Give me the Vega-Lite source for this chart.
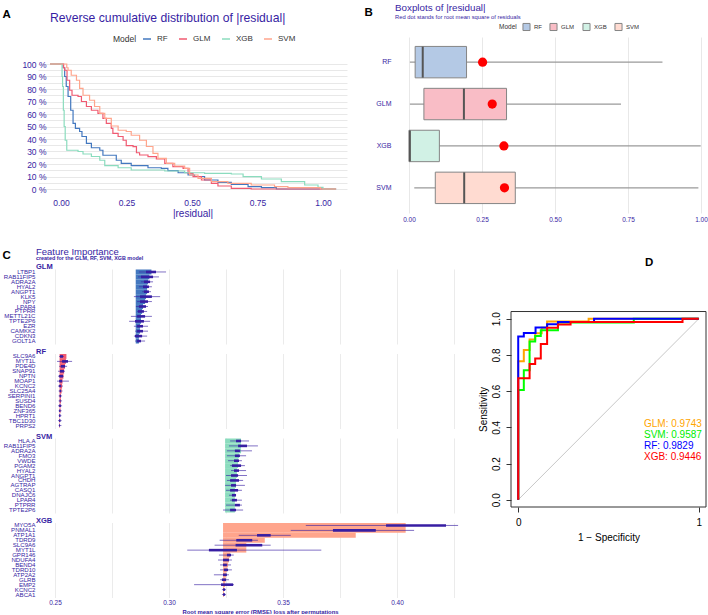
{
 "$schema": "https://vega.github.io/schema/vega-lite/v6.json",
 "background": "white",
 "padding": {"left": 2, "top": 3, "right": 0, "bottom": 0},
 "config": {"font": "Liberation Sans", "view": {"stroke": null}},
 "datasets": {
  "resid": [
   {"model":"RF","x":-0.042,"y":1},{"model":"RF","x":0.008,"y":0.97},{"model":"RF","x":0.014,"y":0.90},{"model":"RF","x":0.020,"y":0.82},{"model":"RF","x":0.027,"y":0.74},{"model":"RF","x":0.037,"y":0.63},{"model":"RF","x":0.046,"y":0.525},{"model":"RF","x":0.055,"y":0.485},{"model":"RF","x":0.071,"y":0.46},{"model":"RF","x":0.080,"y":0.42},{"model":"RF","x":0.097,"y":0.365},{"model":"RF","x":0.116,"y":0.33},{"model":"RF","x":0.148,"y":0.31},{"model":"RF","x":0.160,"y":0.27},{"model":"RF","x":0.211,"y":0.23},{"model":"RF","x":0.230,"y":0.205},{"model":"RF","x":0.268,"y":0.187},{"model":"RF","x":0.332,"y":0.17},{"model":"RF","x":0.383,"y":0.165},{"model":"RF","x":0.408,"y":0.147},{"model":"RF","x":0.447,"y":0.13},{"model":"RF","x":0.485,"y":0.112},{"model":"RF","x":0.510,"y":0.10},{"model":"RF","x":0.548,"y":0.072},{"model":"RF","x":0.599,"y":0.053},{"model":"RF","x":0.650,"y":0.037},{"model":"RF","x":0.714,"y":0.019},{"model":"RF","x":0.765,"y":0.011},{"model":"RF","x":0.822,"y":0},{"model":"RF","x":1.05,"y":0},
   {"model":"GLM","x":-0.042,"y":1},{"model":"GLM","x":0.010,"y":0.97},{"model":"GLM","x":0.014,"y":0.95},{"model":"GLM","x":0.023,"y":0.87},{"model":"GLM","x":0.033,"y":0.79},{"model":"GLM","x":0.042,"y":0.75},{"model":"GLM","x":0.065,"y":0.74},{"model":"GLM","x":0.078,"y":0.70},{"model":"GLM","x":0.097,"y":0.66},{"model":"GLM","x":0.116,"y":0.63},{"model":"GLM","x":0.141,"y":0.605},{"model":"GLM","x":0.160,"y":0.565},{"model":"GLM","x":0.173,"y":0.525},{"model":"GLM","x":0.192,"y":0.485},{"model":"GLM","x":0.198,"y":0.445},{"model":"GLM","x":0.218,"y":0.42},{"model":"GLM","x":0.237,"y":0.39},{"model":"GLM","x":0.249,"y":0.347},{"model":"GLM","x":0.275,"y":0.339},{"model":"GLM","x":0.288,"y":0.29},{"model":"GLM","x":0.300,"y":0.272},{"model":"GLM","x":0.332,"y":0.259},{"model":"GLM","x":0.364,"y":0.24},{"model":"GLM","x":0.396,"y":0.205},{"model":"GLM","x":0.427,"y":0.179},{"model":"GLM","x":0.466,"y":0.165},{"model":"GLM","x":0.485,"y":0.125},{"model":"GLM","x":0.504,"y":0.099},{"model":"GLM","x":0.536,"y":0.072},{"model":"GLM","x":0.574,"y":0.045},{"model":"GLM","x":0.599,"y":0.024},{"model":"GLM","x":0.650,"y":0.005},{"model":"GLM","x":0.726,"y":0},{"model":"GLM","x":1.05,"y":0},
   {"model":"XGB","x":-0.042,"y":1},{"model":"XGB","x":0.004,"y":0.90},{"model":"XGB","x":0.006,"y":0.82},{"model":"XGB","x":0.009,"y":0.63},{"model":"XGB","x":0.012,"y":0.50},{"model":"XGB","x":0.016,"y":0.39},{"model":"XGB","x":0.022,"y":0.31},{"model":"XGB","x":0.065,"y":0.30},{"model":"XGB","x":0.084,"y":0.28},{"model":"XGB","x":0.116,"y":0.26},{"model":"XGB","x":0.148,"y":0.23},{"model":"XGB","x":0.167,"y":0.187},{"model":"XGB","x":0.218,"y":0.17},{"model":"XGB","x":0.268,"y":0.152},{"model":"XGB","x":0.396,"y":0.144},{"model":"XGB","x":0.472,"y":0.13},{"model":"XGB","x":0.548,"y":0.125},{"model":"XGB","x":0.650,"y":0.12},{"model":"XGB","x":0.695,"y":0.099},{"model":"XGB","x":0.765,"y":0.08},{"model":"XGB","x":0.841,"y":0.059},{"model":"XGB","x":0.930,"y":0.032},{"model":"XGB","x":0.981,"y":0.013},{"model":"XGB","x":1.0,"y":0},{"model":"XGB","x":1.05,"y":0},
   {"model":"SVM","x":-0.042,"y":1},{"model":"SVM","x":0.022,"y":0.97},{"model":"SVM","x":0.027,"y":0.95},{"model":"SVM","x":0.039,"y":0.91},{"model":"SVM","x":0.059,"y":0.87},{"model":"SVM","x":0.071,"y":0.805},{"model":"SVM","x":0.084,"y":0.75},{"model":"SVM","x":0.109,"y":0.71},{"model":"SVM","x":0.128,"y":0.66},{"model":"SVM","x":0.148,"y":0.605},{"model":"SVM","x":0.167,"y":0.565},{"model":"SVM","x":0.192,"y":0.504},{"model":"SVM","x":0.218,"y":0.47},{"model":"SVM","x":0.249,"y":0.46},{"model":"SVM","x":0.268,"y":0.43},{"model":"SVM","x":0.300,"y":0.39},{"model":"SVM","x":0.326,"y":0.34},{"model":"SVM","x":0.351,"y":0.285},{"model":"SVM","x":0.370,"y":0.245},{"model":"SVM","x":0.402,"y":0.205},{"model":"SVM","x":0.434,"y":0.184},{"model":"SVM","x":0.472,"y":0.165},{"model":"SVM","x":0.491,"y":0.112},{"model":"SVM","x":0.523,"y":0.085},{"model":"SVM","x":0.574,"y":0.059},{"model":"SVM","x":0.637,"y":0.045},{"model":"SVM","x":0.726,"y":0.032},{"model":"SVM","x":0.815,"y":0.019},{"model":"SVM","x":0.866,"y":0.011},{"model":"SVM","x":0.99,"y":0},{"model":"SVM","x":1.05,"y":0}
  ],
  "box": [
   {"model":"RF","wlo":0.003,"q1":0.021,"med":0.047,"q3":0.197,"whi":0.868,"rmse":0.252},
   {"model":"GLM","wlo":0.003,"q1":0.051,"med":0.188,"q3":0.334,"whi":0.726,"rmse":0.285},
   {"model":"XGB","wlo":0.0,"q1":0.0,"med":0.003,"q3":0.104,"whi":0.999,"rmse":0.325},
   {"model":"SVM","wlo":0.018,"q1":0.090,"med":0.189,"q3":0.364,"whi":0.991,"rmse":0.327}
  ],
  "fi": [
   {"m":"GLM","g":"LTBP1","r":1,"b":0.2854,"v":0.2923,"lo":0.2868,"q1":0.2899,"q3":0.2943,"hi":0.2987},
   {"m":"GLM","g":"RAB11FIP5","r":2,"b":0.2854,"v":0.2914,"lo":0.2864,"q1":0.2877,"q3":0.2930,"hi":0.2956},
   {"m":"GLM","g":"ADRA2A","r":3,"b":0.2854,"v":0.2908,"lo":0.2877,"q1":0.2890,"q3":0.2917,"hi":0.2930},
   {"m":"GLM","g":"HYAL2","r":4,"b":0.2854,"v":0.2904,"lo":0.2868,"q1":0.2886,"q3":0.2912,"hi":0.2925},
   {"m":"GLM","g":"ANGPT1","r":5,"b":0.2854,"v":0.2904,"lo":0.2882,"q1":0.2890,"q3":0.2912,"hi":0.2921},
   {"m":"GLM","g":"KLK5","r":6,"b":0.2854,"v":0.2899,"lo":0.2846,"q1":0.2873,"q3":0.2925,"hi":0.2961},
   {"m":"GLM","g":"NPY","r":7,"b":0.2854,"v":0.2895,"lo":0.2860,"q1":0.2873,"q3":0.2908,"hi":0.2925},
   {"m":"GLM","g":"LPAR4","r":8,"b":0.2854,"v":0.2886,"lo":0.2855,"q1":0.2868,"q3":0.2899,"hi":0.2908},
   {"m":"GLM","g":"PTPRR","r":9,"b":0.2854,"v":0.2882,"lo":0.2860,"q1":0.2864,"q3":0.2890,"hi":0.2904},
   {"m":"GLM","g":"METTL21C","r":10,"b":0.2854,"v":0.2877,"lo":0.2833,"q1":0.2860,"q3":0.2895,"hi":0.2925},
   {"m":"GLM","g":"TPTE2P6","r":11,"b":0.2854,"v":0.2877,"lo":0.2825,"q1":0.2851,"q3":0.2890,"hi":0.2917},
   {"m":"GLM","g":"EZR","r":12,"b":0.2854,"v":0.2873,"lo":0.2846,"q1":0.2860,"q3":0.2886,"hi":0.2908},
   {"m":"GLM","g":"CAMKK2","r":13,"b":0.2854,"v":0.2873,"lo":0.2851,"q1":0.2860,"q3":0.2886,"hi":0.2908},
   {"m":"GLM","g":"CDKN3","r":14,"b":0.2854,"v":0.2868,"lo":0.2846,"q1":0.2851,"q3":0.2882,"hi":0.2904},
   {"m":"GLM","g":"GOLT1A","r":15,"b":0.2854,"v":0.2868,"lo":0.2851,"q1":0.2860,"q3":0.2877,"hi":0.2895},
   {"m":"RF","g":"SLC9A6","r":1,"b":0.2520,"v":0.2550,"lo":0.2518,"q1":0.2522,"q3":0.2535,"hi":0.2539},
   {"m":"RF","g":"MYT1L","r":2,"b":0.2520,"v":0.2548,"lo":0.2509,"q1":0.2531,"q3":0.2557,"hi":0.2575},
   {"m":"RF","g":"PDE4D","r":3,"b":0.2520,"v":0.2544,"lo":0.2518,"q1":0.2526,"q3":0.2544,"hi":0.2553},
   {"m":"RF","g":"SNAP91","r":4,"b":0.2520,"v":0.2540,"lo":0.2513,"q1":0.2522,"q3":0.2539,"hi":0.2544},
   {"m":"RF","g":"NPTN","r":5,"b":0.2520,"v":0.2537,"lo":0.2513,"q1":0.2518,"q3":0.2535,"hi":0.2539},
   {"m":"RF","g":"MOAP1","r":6,"b":0.2520,"v":0.2533,"lo":0.2509,"q1":0.2518,"q3":0.2531,"hi":0.2561},
   {"m":"RF","g":"KCNC2","r":7,"b":0.2520,"v":0.2531,"lo":0.2513,"q1":0.2518,"q3":0.2526,"hi":0.2535},
   {"m":"RF","g":"SLC25A4","r":8,"b":0.2520,"v":0.2529,"lo":0.2516,"q1":0.2520,"q3":0.2526,"hi":0.2533},
   {"m":"RF","g":"SERPINI1","r":9,"b":0.2520,"v":0.2526,"lo":0.2516,"q1":0.2520,"q3":0.2526,"hi":0.2531},
   {"m":"RF","g":"SUSD4","r":10,"b":0.2520,"v":0.2526,"lo":0.2516,"q1":0.2520,"q3":0.2524,"hi":0.2531},
   {"m":"RF","g":"BEND6","r":11,"b":0.2520,"v":0.2524,"lo":0.2513,"q1":0.2518,"q3":0.2526,"hi":0.2531},
   {"m":"RF","g":"ZNF365","r":12,"b":0.2520,"v":0.2524,"lo":0.2516,"q1":0.2518,"q3":0.2524,"hi":0.2529},
   {"m":"RF","g":"HPRT1","r":13,"b":0.2520,"v":0.2522,"lo":0.2516,"q1":0.2518,"q3":0.2524,"hi":0.2528},
   {"m":"RF","g":"TBC1D30","r":14,"b":0.2520,"v":0.2522,"lo":0.2513,"q1":0.2518,"q3":0.2524,"hi":0.2529},
   {"m":"RF","g":"PRPS2","r":15,"b":0.2520,"v":0.2522,"lo":0.2516,"q1":0.2518,"q3":0.2522,"hi":0.2528},
   {"m":"SVM","g":"HLA.A","r":1,"b":0.3246,"v":0.3316,"lo":0.3268,"q1":0.3294,"q3":0.3316,"hi":0.3351},
   {"m":"SVM","g":"RAB11FIP5","r":2,"b":0.3246,"v":0.3316,"lo":0.3263,"q1":0.3303,"q3":0.3342,"hi":0.3390},
   {"m":"SVM","g":"ADRA2A","r":3,"b":0.3246,"v":0.3316,"lo":0.3254,"q1":0.3289,"q3":0.3311,"hi":0.3364},
   {"m":"SVM","g":"FMO3","r":4,"b":0.3246,"v":0.3307,"lo":0.3254,"q1":0.3289,"q3":0.3311,"hi":0.3338},
   {"m":"SVM","g":"VWDE","r":5,"b":0.3246,"v":0.3303,"lo":0.3259,"q1":0.3285,"q3":0.3307,"hi":0.3320},
   {"m":"SVM","g":"PGAM2","r":6,"b":0.3246,"v":0.3303,"lo":0.3268,"q1":0.3276,"q3":0.3316,"hi":0.3333},
   {"m":"SVM","g":"HYAL2","r":7,"b":0.3246,"v":0.3298,"lo":0.3272,"q1":0.3285,"q3":0.3307,"hi":0.3338},
   {"m":"SVM","g":"ANGPT1","r":8,"b":0.3246,"v":0.3298,"lo":0.3250,"q1":0.3272,"q3":0.3303,"hi":0.3342},
   {"m":"SVM","g":"CHDH","r":9,"b":0.3246,"v":0.3294,"lo":0.3254,"q1":0.3268,"q3":0.3307,"hi":0.3325},
   {"m":"SVM","g":"AGTRAP","r":10,"b":0.3246,"v":0.3294,"lo":0.3246,"q1":0.3272,"q3":0.3294,"hi":0.3333},
   {"m":"SVM","g":"CASQ1","r":11,"b":0.3246,"v":0.3289,"lo":0.3250,"q1":0.3268,"q3":0.3303,"hi":0.3320},
   {"m":"SVM","g":"DNAJC6","r":12,"b":0.3246,"v":0.3289,"lo":0.3263,"q1":0.3276,"q3":0.3294,"hi":0.3294},
   {"m":"SVM","g":"LPAR4","r":13,"b":0.3246,"v":0.3289,"lo":0.3268,"q1":0.3276,"q3":0.3298,"hi":0.3320},
   {"m":"SVM","g":"PTPRR","r":14,"b":0.3246,"v":0.3289,"lo":0.3250,"q1":0.3289,"q3":0.3311,"hi":0.3320},
   {"m":"SVM","g":"TPTE2P6","r":15,"b":0.3246,"v":0.3289,"lo":0.3237,"q1":0.3268,"q3":0.3294,"hi":0.3325},
   {"m":"XGB","g":"MYO5A","r":1,"b":0.3237,"v":0.4038,"lo":0.3600,"q1":0.3952,"q3":0.4215,"hi":0.4268},
   {"m":"XGB","g":"PNMAL1","r":2,"b":0.3237,"v":0.4038,"lo":0.3534,"q1":0.3719,"q3":0.3907,"hi":0.4075},
   {"m":"XGB","g":"ATP1A1","r":3,"b":0.3237,"v":0.3819,"lo":0.3306,"q1":0.3386,"q3":0.3446,"hi":0.3534},
   {"m":"XGB","g":"TDRD9","r":4,"b":0.3237,"v":0.3420,"lo":0.3222,"q1":0.3295,"q3":0.3365,"hi":0.3390},
   {"m":"XGB","g":"SLC9A6","r":5,"b":0.3237,"v":0.3339,"lo":0.3200,"q1":0.3292,"q3":0.3409,"hi":0.3446},
   {"m":"XGB","g":"MYT1L","r":6,"b":0.3237,"v":0.3339,"lo":0.3080,"q1":0.3175,"q3":0.3298,"hi":0.3668},
   {"m":"XGB","g":"GPR146","r":7,"b":0.3237,"v":0.3268,"lo":0.3219,"q1":0.3254,"q3":0.3272,"hi":0.3284},
   {"m":"XGB","g":"NDUFA4","r":8,"b":0.3237,"v":0.3263,"lo":0.3215,"q1":0.3237,"q3":0.3263,"hi":0.3276},
   {"m":"XGB","g":"BEND4","r":9,"b":0.3237,"v":0.3259,"lo":0.3224,"q1":0.3237,"q3":0.3254,"hi":0.3272},
   {"m":"XGB","g":"TDRD10","r":10,"b":0.3237,"v":0.3254,"lo":0.3224,"q1":0.3241,"q3":0.3259,"hi":0.3276},
   {"m":"XGB","g":"ATP2A2","r":11,"b":0.3237,"v":0.3250,"lo":0.3197,"q1":0.3237,"q3":0.3254,"hi":0.3263},
   {"m":"XGB","g":"GLRB","r":12,"b":0.3237,"v":0.3248,"lo":0.3224,"q1":0.3232,"q3":0.3250,"hi":0.3263},
   {"m":"XGB","g":"EMP2","r":13,"b":0.3237,"v":0.3246,"lo":0.3110,"q1":0.3228,"q3":0.3281,"hi":0.3285},
   {"m":"XGB","g":"KCNC2","r":14,"b":0.3237,"v":0.3241,"lo":0.3232,"q1":0.3237,"q3":0.3246,"hi":0.3250},
   {"m":"XGB","g":"ABCA1","r":15,"b":0.3237,"v":0.3241,"lo":0.3232,"q1":0.3237,"q3":0.3246,"hi":0.3250}
  ],
  "roc": [
   {"curve":"GLM: 0.9743","fpr":0,"tpr":0},{"curve":"GLM: 0.9743","fpr":0,"tpr":0.765},{"curve":"GLM: 0.9743","fpr":0.031,"tpr":0.765},{"curve":"GLM: 0.9743","fpr":0.031,"tpr":0.827},{"curve":"GLM: 0.9743","fpr":0.063,"tpr":0.827},{"curve":"GLM: 0.9743","fpr":0.063,"tpr":0.886},{"curve":"GLM: 0.9743","fpr":0.094,"tpr":0.886},{"curve":"GLM: 0.9743","fpr":0.094,"tpr":0.92},{"curve":"GLM: 0.9743","fpr":0.13,"tpr":0.92},{"curve":"GLM: 0.9743","fpr":0.13,"tpr":0.95},{"curve":"GLM: 0.9743","fpr":0.16,"tpr":0.95},{"curve":"GLM: 0.9743","fpr":0.16,"tpr":0.985},{"curve":"GLM: 0.9743","fpr":0.39,"tpr":0.985},{"curve":"GLM: 0.9743","fpr":0.39,"tpr":1},{"curve":"GLM: 0.9743","fpr":1,"tpr":1},
   {"curve":"SVM: 0.9587","fpr":0,"tpr":0},{"curve":"SVM: 0.9587","fpr":0,"tpr":0.607},{"curve":"SVM: 0.9587","fpr":0.031,"tpr":0.607},{"curve":"SVM: 0.9587","fpr":0.031,"tpr":0.715},{"curve":"SVM: 0.9587","fpr":0.063,"tpr":0.715},{"curve":"SVM: 0.9587","fpr":0.063,"tpr":0.875},{"curve":"SVM: 0.9587","fpr":0.094,"tpr":0.875},{"curve":"SVM: 0.9587","fpr":0.094,"tpr":0.905},{"curve":"SVM: 0.9587","fpr":0.125,"tpr":0.905},{"curve":"SVM: 0.9587","fpr":0.125,"tpr":0.937},{"curve":"SVM: 0.9587","fpr":0.22,"tpr":0.937},{"curve":"SVM: 0.9587","fpr":0.22,"tpr":0.98},{"curve":"SVM: 0.9587","fpr":0.64,"tpr":0.98},{"curve":"SVM: 0.9587","fpr":0.64,"tpr":1},{"curve":"SVM: 0.9587","fpr":1,"tpr":1},
   {"curve":"RF: 0.9829","fpr":0,"tpr":0},{"curve":"RF: 0.9829","fpr":0,"tpr":0.902},{"curve":"RF: 0.9829","fpr":0.031,"tpr":0.902},{"curve":"RF: 0.9829","fpr":0.031,"tpr":0.921},{"curve":"RF: 0.9829","fpr":0.096,"tpr":0.921},{"curve":"RF: 0.9829","fpr":0.096,"tpr":0.952},{"curve":"RF: 0.9829","fpr":0.16,"tpr":0.952},{"curve":"RF: 0.9829","fpr":0.16,"tpr":0.97},{"curve":"RF: 0.9829","fpr":0.22,"tpr":0.97},{"curve":"RF: 0.9829","fpr":0.22,"tpr":0.982},{"curve":"RF: 0.9829","fpr":0.42,"tpr":0.982},{"curve":"RF: 0.9829","fpr":0.42,"tpr":1},{"curve":"RF: 0.9829","fpr":1,"tpr":1},
   {"curve":"XGB: 0.9446","fpr":0,"tpr":0},{"curve":"XGB: 0.9446","fpr":0,"tpr":0.672},{"curve":"XGB: 0.9446","fpr":0.063,"tpr":0.672},{"curve":"XGB: 0.9446","fpr":0.063,"tpr":0.75},{"curve":"XGB: 0.9446","fpr":0.094,"tpr":0.75},{"curve":"XGB: 0.9446","fpr":0.094,"tpr":0.78},{"curve":"XGB: 0.9446","fpr":0.125,"tpr":0.78},{"curve":"XGB: 0.9446","fpr":0.125,"tpr":0.86},{"curve":"XGB: 0.9446","fpr":0.16,"tpr":0.86},{"curve":"XGB: 0.9446","fpr":0.16,"tpr":0.95},{"curve":"XGB: 0.9446","fpr":0.22,"tpr":0.95},{"curve":"XGB: 0.9446","fpr":0.22,"tpr":0.968},{"curve":"XGB: 0.9446","fpr":0.29,"tpr":0.968},{"curve":"XGB: 0.9446","fpr":0.29,"tpr":0.982},{"curve":"XGB: 0.9446","fpr":0.91,"tpr":0.982},{"curve":"XGB: 0.9446","fpr":0.91,"tpr":1},{"curve":"XGB: 0.9446","fpr":1,"tpr":1}
  ]
 },
 "spacing": 23,
 "resolve": {"scale": {"color": "independent", "x": "independent", "y": "independent"}, "legend": {"color": "independent"}, "axis": {"x": "independent", "y": "independent"}},
 "vconcat": [
  {
   "spacing": 17,
   "resolve": {"scale": {"color": "independent", "x": "independent", "y": "independent"}, "legend": {"color": "independent"}, "axis": {"x": "independent", "y": "independent"}},
   "hconcat": [
    {
     "width": 309, "height": 157,
     "title": {"text": "Reverse cumulative distribution of |residual|", "anchor": "start", "frame": "group", "dx": 12, "offset": -16, "fontSize": 12.2, "fontWeight": "normal", "color": "#371ea3"},
     "data": {"name": "resid"},
     "mark": {"type": "line", "interpolate": "step-after", "strokeWidth": 1.2},
     "encoding": {
      "x": {"field": "x", "type": "quantitative", "scale": {"domain": [-0.0878, 1.0916], "nice": false, "zero": false},
       "axis": {"values": [0, 0.25, 0.5, 0.75, 1], "format": ".2f", "title": "|residual|", "grid": false, "domain": false, "ticks": false, "labelColor": "#371ea3", "labelFontSize": 8.5, "labelPadding": 4, "titleColor": "#371ea3", "titleFontSize": 10, "titleFontWeight": "normal", "titlePadding": 2}},
      "y": {"field": "y", "type": "quantitative", "scale": {"domain": [-0.04, 1.216], "nice": false, "zero": false},
       "axis": {"values": [0,0.05,0.1,0.15,0.2,0.25,0.3,0.35,0.4,0.45,0.5,0.55,0.6,0.65,0.7,0.75,0.8,0.85,0.9,0.95,1],
        "labelExpr": "round(datum.value*100) % 10 == 0 ? round(datum.value*100) + ' %' : ''",
        "domain": false, "ticks": false, "offset": -10, "labelPadding": 2, "labelColor": "#371ea3", "labelFontSize": 8.5, "gridColor": "#e8e8e8",
        "title": "A", "titleAngle": 0, "titleAlign": "left", "titleBaseline": "middle", "titleX": -46, "titleY": -23, "titleFontSize": 11.5, "titleFontWeight": "bold", "titleColor": "#000000"}},
      "color": {"field": "model", "type": "nominal", "scale": {"domain": ["RF","GLM","XGB","SVM"], "range": ["#4378bf","#f05a71","#8bdcbe","#ffa58c"]},
       "legend": {"orient": "none", "legendX": 75, "legendY": -3, "direction": "horizontal", "title": "Model", "titleOrient": "left", "titleFontSize": 8.5, "titleFontWeight": "normal", "titleColor": "#333333", "labelFontSize": 8, "labelColor": "#333333", "symbolType": "stroke", "symbolSize": 64, "symbolStrokeWidth": 1.5, "columnPadding": 8, "labelOffset": 5}}
     }
    },
    {
     "width": 312, "height": 176,
     "title": {"text": "Boxplots of |residual|", "subtitle": "Red dot stands for root mean square of residuals", "anchor": "start", "frame": "group", "dx": 1, "offset": -14, "fontSize": 9.8, "fontWeight": "normal", "color": "#371ea3", "subtitleFontSize": 5.8, "subtitleColor": "#371ea3", "subtitlePadding": 1},
     "data": {"name": "box"},
     "encoding": {
      "y": {"field": "model", "type": "nominal", "scale": {"domain": ["RF","GLM","XGB","SVM"], "paddingInner": 0.25, "paddingOuter": 0.225},
       "axis": {"domain": false, "ticks": false, "labelColor": "#371ea3", "labelFontSize": 7, "labelPadding": 3,
        "title": "B", "titleAngle": 0, "titleAlign": "left", "titleBaseline": "middle", "titleX": -30, "titleY": -25, "titleFontSize": 11.5, "titleFontWeight": "bold", "titleColor": "#000000"}}
     },
     "layer": [
      {"mark": {"type": "rule", "color": "#9a9a9a", "strokeWidth": 1.3},
       "encoding": {
        "x": {"field": "wlo", "type": "quantitative", "scale": {"domain": [-0.0514, 1.0171], "nice": false, "zero": false},
         "axis": {"values": [0,0.125,0.25,0.375,0.5,0.625,0.75,0.875,1], "labelExpr": "round(datum.value*1000) % 250 == 0 ? format(datum.value, '.2f') : ''", "title": null, "domain": false, "ticks": false, "labelColor": "#371ea3", "labelFontSize": 6.5, "labelPadding": 3, "gridColor": "#e8e8e8"}},
        "x2": {"field": "whi"}}},
      {"mark": {"type": "bar", "stroke": "#858585", "strokeWidth": 1},
       "encoding": {
        "x": {"field": "q1", "type": "quantitative"}, "x2": {"field": "q3"},
        "color": {"field": "model", "type": "nominal", "scale": {"domain": ["RF","GLM","XGB","SVM"], "range": ["#b4c9e5","#f9bdc6","#d1f1e5","#ffdbd1"]},
         "legend": {"orient": "none", "legendX": 105, "legendY": -15, "direction": "horizontal", "title": "Model", "titleOrient": "left", "titleFontSize": 6.5, "titleFontWeight": "normal", "titleColor": "#333333", "labelFontSize": 6, "labelColor": "#333333", "symbolType": "square", "symbolSize": 50, "symbolStrokeColor": "#858585", "symbolStrokeWidth": 1, "columnPadding": 5, "labelOffset": 3}}}},
      {"mark": {"type": "tick", "color": "#555555", "thickness": 2, "size": 31, "opacity": 1},
       "encoding": {"x": {"field": "med", "type": "quantitative"}}},
      {"mark": {"type": "circle", "color": "#ff0000", "size": 85, "opacity": 1},
       "encoding": {"x": {"field": "rmse", "type": "quantitative"}}}
     ]
    }
   ]
  },
  {
   "spacing": 17,
   "resolve": {"scale": {"color": "independent", "x": "independent", "y": "independent"}, "legend": {"color": "independent"}, "axis": {"x": "independent", "y": "independent"}},
   "hconcat": [
    {
     "title": {"text": "Feature Importance", "subtitle": "created for the GLM, RF, SVM, XGB model", "anchor": "start", "frame": "group", "dx": -2, "offset": -12.7, "fontSize": 9.5, "fontWeight": "normal", "color": "#371ea3", "subtitleFontSize": 5.4, "subtitleColor": "#371ea3", "subtitleFontWeight": "bold", "subtitlePadding": 0},
     "spacing": 3.5,
     "resolve": {"scale": {"x": "independent", "y": "independent"}},
     "vconcat": [
      {
       "width": 423, "height": 75,
       "title": {"text": "GLM", "anchor": "start", "frame": "group", "dx": -2, "offset": -21.75, "fontSize": 7.5, "fontWeight": "bold", "color": "#371ea3"},
       "data": {"name": "fi"},
       "transform": [{"filter": "datum.m == 'GLM'"}],
       "encoding": {
        "y": {"field": "g", "type": "nominal", "sort": {"field": "r", "op": "min", "order": "ascending"}, "scale": {"paddingInner": 0, "paddingOuter": 0.1},
         "axis": {"domain": false, "ticks": false, "labelFontSize": 6.1, "labelColor": "#371ea3", "labelPadding": 3,
          "title": "C", "titleAngle": 0, "titleAlign": "left", "titleBaseline": "middle", "titleX": -36, "titleY": -14, "titleFontSize": 11.5, "titleFontWeight": "bold", "titleColor": "#000000"}}
       },
       "layer": [
        {"mark": {"type": "bar", "color": "#4378bf"},
         "encoding": {"x": {"field": "b", "type": "quantitative", "scale": {"domain": [0.24254, 0.42807], "nice": false, "zero": false},
          "axis": {"values": [0.25,0.275,0.3,0.325,0.35,0.375,0.4,0.425], "labels": false, "ticks": false, "domain": false, "title": null, "gridColor": "#ebebeb"}}, "x2": {"field": "v"}}},
        {"mark": {"type": "rule", "color": "#371ea3", "strokeWidth": 0.9, "opacity": 0.7}, "encoding": {"x": {"field": "lo", "type": "quantitative"}, "x2": {"field": "hi"}}},
        {"mark": {"type": "rule", "color": "#371ea3", "strokeWidth": 2.6}, "encoding": {"x": {"field": "q1", "type": "quantitative"}, "x2": {"field": "q3"}}}
       ]
      },
      {
       "width": 423, "height": 75,
       "title": {"text": "RF", "anchor": "start", "frame": "group", "dx": -2, "offset": -3, "fontSize": 7.5, "fontWeight": "bold", "color": "#371ea3"},
       "data": {"name": "fi"},
       "transform": [{"filter": "datum.m == 'RF'"}],
       "encoding": {
        "y": {"field": "g", "type": "nominal", "sort": {"field": "r", "op": "min", "order": "ascending"}, "scale": {"paddingInner": 0, "paddingOuter": 0.1},
         "axis": {"domain": false, "ticks": false, "labelFontSize": 6.1, "labelColor": "#371ea3", "labelPadding": 3, "title": null}}
       },
       "layer": [
        {"mark": {"type": "bar", "color": "#f05a71"},
         "encoding": {"x": {"field": "b", "type": "quantitative", "scale": {"domain": [0.24254, 0.42807], "nice": false, "zero": false},
          "axis": {"values": [0.25,0.275,0.3,0.325,0.35,0.375,0.4,0.425], "labels": false, "ticks": false, "domain": false, "title": null, "gridColor": "#ebebeb"}}, "x2": {"field": "v"}}},
        {"mark": {"type": "rule", "color": "#371ea3", "strokeWidth": 0.9, "opacity": 0.7}, "encoding": {"x": {"field": "lo", "type": "quantitative"}, "x2": {"field": "hi"}}},
        {"mark": {"type": "rule", "color": "#371ea3", "strokeWidth": 2.6}, "encoding": {"x": {"field": "q1", "type": "quantitative"}, "x2": {"field": "q3"}}}
       ]
      },
      {
       "width": 423, "height": 75,
       "title": {"text": "SVM", "anchor": "start", "frame": "group", "dx": -2, "offset": -3, "fontSize": 7.5, "fontWeight": "bold", "color": "#371ea3"},
       "data": {"name": "fi"},
       "transform": [{"filter": "datum.m == 'SVM'"}],
       "encoding": {
        "y": {"field": "g", "type": "nominal", "sort": {"field": "r", "op": "min", "order": "ascending"}, "scale": {"paddingInner": 0, "paddingOuter": 0.1},
         "axis": {"domain": false, "ticks": false, "labelFontSize": 6.1, "labelColor": "#371ea3", "labelPadding": 3, "title": null}}
       },
       "layer": [
        {"mark": {"type": "bar", "color": "#8bdcbe"},
         "encoding": {"x": {"field": "b", "type": "quantitative", "scale": {"domain": [0.24254, 0.42807], "nice": false, "zero": false},
          "axis": {"values": [0.25,0.275,0.3,0.325,0.35,0.375,0.4,0.425], "labels": false, "ticks": false, "domain": false, "title": null, "gridColor": "#ebebeb"}}, "x2": {"field": "v"}}},
        {"mark": {"type": "rule", "color": "#371ea3", "strokeWidth": 0.9, "opacity": 0.7}, "encoding": {"x": {"field": "lo", "type": "quantitative"}, "x2": {"field": "hi"}}},
        {"mark": {"type": "rule", "color": "#371ea3", "strokeWidth": 2.6}, "encoding": {"x": {"field": "q1", "type": "quantitative"}, "x2": {"field": "q3"}}}
       ]
      },
      {
       "width": 423, "height": 75,
       "title": {"text": "XGB", "anchor": "start", "frame": "group", "dx": -2, "offset": -3, "fontSize": 7.5, "fontWeight": "bold", "color": "#371ea3"},
       "data": {"name": "fi"},
       "transform": [{"filter": "datum.m == 'XGB'"}],
       "encoding": {
        "y": {"field": "g", "type": "nominal", "sort": {"field": "r", "op": "min", "order": "ascending"}, "scale": {"paddingInner": 0, "paddingOuter": 0.1},
         "axis": {"domain": false, "ticks": false, "labelFontSize": 6.1, "labelColor": "#371ea3", "labelPadding": 3, "title": null}}
       },
       "layer": [
        {"mark": {"type": "bar", "color": "#ffa58c"},
         "encoding": {"x": {"field": "b", "type": "quantitative", "scale": {"domain": [0.24254, 0.42807], "nice": false, "zero": false},
          "axis": {"values": [0.25,0.275,0.3,0.325,0.35,0.375,0.4,0.425], "labelExpr": "round(datum.value*1000) % 50 == 0 ? format(datum.value, '.2f') : ''", "ticks": false, "domain": false, "gridColor": "#ebebeb", "labelColor": "#371ea3", "labelFontSize": 6.5, "labelPadding": 2,
           "title": "Root mean square error (RMSE) loss after permutations", "titleX": 222, "titleColor": "#371ea3", "titleFontSize": 5.9, "titleFontWeight": "bold", "titlePadding": 2}}, "x2": {"field": "v"}}},
        {"mark": {"type": "rule", "color": "#371ea3", "strokeWidth": 0.9, "opacity": 0.7}, "encoding": {"x": {"field": "lo", "type": "quantitative"}, "x2": {"field": "hi"}}},
        {"mark": {"type": "rule", "color": "#371ea3", "strokeWidth": 2.6}, "encoding": {"x": {"field": "q1", "type": "quantitative"}, "x2": {"field": "q3"}}}
       ]
      }
     ]
    },
    {
     "width": 195, "height": 238,
     "title": {"text": "D", "anchor": "start", "frame": "group", "dx": 134, "offset": 1, "fontSize": 11.5, "fontWeight": "bold", "color": "#000000"},
     "layer": [
      {"data": {"values": [{}]},
       "mark": {"type": "rect", "fillOpacity": 0, "stroke": "#333333", "strokeWidth": 1},
       "encoding": {
        "x": {"datum": -0.04, "type": "quantitative", "scale": {"domain": [-0.04, 1.04], "nice": false, "zero": false},
         "axis": {"values": [0, 1], "format": "d", "grid": false, "domain": false, "tickColor": "#333333", "tickSize": 5, "labelColor": "#000000", "labelFontSize": 10, "labelPadding": 5,
          "title": "1 − Specificity", "titleFontSize": 10, "titleFontWeight": "normal", "titleColor": "#000000", "titlePadding": 5}},
        "y": {"datum": -0.04, "type": "quantitative", "scale": {"domain": [-0.04, 1.2749], "nice": false, "zero": false},
         "axis": {"values": [0, 0.2, 0.4, 0.6, 0.8, 1], "format": ".1f", "grid": false, "domain": false, "tickColor": "#333333", "tickSize": 5, "labelColor": "#000000", "labelFontSize": 10, "labelAngle": 270, "labelAlign": "center", "labelBaseline": "bottom", "labelPadding": 5,
          "title": "Sensitivity", "titleFontSize": 10, "titleFontWeight": "normal", "titleColor": "#000000", "titlePadding": 3, "titleY": 140}},
        "x2": {"datum": 1.04}, "y2": {"datum": 1.04}}},
      {"data": {"values": [{}]},
       "mark": {"type": "rule", "color": "#c8c8c8", "strokeWidth": 1},
       "encoding": {
        "x": {"datum": 0, "type": "quantitative"}, "y": {"datum": 0, "type": "quantitative"},
        "x2": {"datum": 1}, "y2": {"datum": 1}}},
      {"data": {"name": "roc"},
       "mark": {"type": "line", "strokeWidth": 2},
       "encoding": {
        "x": {"field": "fpr", "type": "quantitative"},
        "y": {"field": "tpr", "type": "quantitative"},
        "order": [{"field": "fpr", "type": "quantitative"}, {"field": "tpr", "type": "quantitative"}],
        "color": {"field": "curve", "type": "nominal", "scale": {"domain": ["GLM: 0.9743","SVM: 0.9587","RF: 0.9829","XGB: 0.9446"], "range": ["#ffa500","#00ff00","#0000ff","#ff0000"]},
         "legend": {"orient": "none", "legendX": 123, "legendY": 150, "title": null, "symbolSize": 1, "symbolOpacity": 0, "symbolStrokeWidth": 0, "labelOffset": 0, "labelFontSize": 10, "rowPadding": 1,
          "encode": {"labels": {"update": {"fill": {"signal": "datum.value === 'GLM: 0.9743' ? '#ffa500' : datum.value === 'SVM: 0.9587' ? '#00ee00' : datum.value === 'RF: 0.9829' ? '#0000ff' : '#ff0000'"}}}}}}
       }}
     ]
    }
   ]
  }
 ]
}
